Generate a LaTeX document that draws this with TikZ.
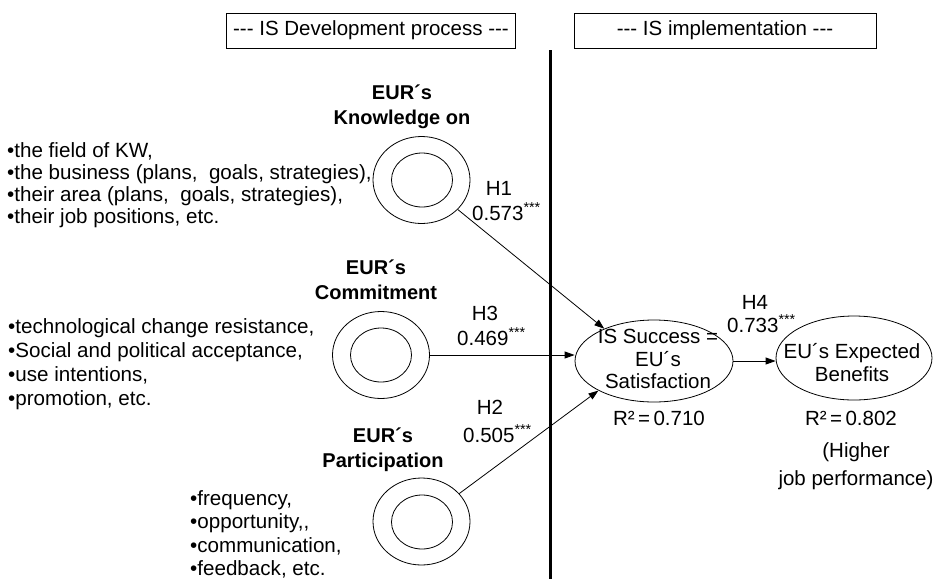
\documentclass[tikz,border=0pt]{standalone}
\usepackage{fontspec}
\setmainfont{Liberation Sans}
\usetikzlibrary{shapes.geometric,arrows.meta}
\begin{document}
\begin{tikzpicture}[x=1pt,y=-1pt,
  every node/.style={inner sep=0pt, font=\fontsize{20.5}{24}\selectfont},
  hdr/.style={draw, line width=0.8pt, minimum height=35pt, align=center},
  outerring/.style={draw, ellipse, line width=0.8pt, minimum width=97pt, minimum height=87pt},
  innerring/.style={draw, ellipse, line width=0.8pt, minimum width=61pt, minimum height=54pt},
  construct/.style={draw, ellipse, line width=0.8pt},
  lbl/.style={font=\bfseries\fontsize{20}{25}\selectfont, align=center},
  items/.style={align=left, anchor=north west},
  coef/.style={anchor=base west},
  conn/.style={-{Triangle[length=10pt,width=7pt]}, line width=0.8pt}]
\fill[white] (0,0) rectangle (937,579);
\useasboundingbox (0,0) rectangle (937,579);

% headers
\node[hdr, minimum width=289pt] (hA) at (371,30.5) {{-}{-}{-} IS Development process {-}{-}{-}};
\node[hdr, minimum width=302pt] (hB) at (725,30.5) {{-}{-}{-} IS implementation {-}{-}{-}};

% divider
\coordinate (vtop) at (550,50);
\coordinate (vbot) at (550,579);
\draw[line width=3pt] (vtop) -- (vbot);

% knowledge
\node[lbl] (kl) at (402,107) {EUR´s\\Knowledge on};
\node[outerring] (k) at (421.5,180) {};
\node[innerring] (ki) at (422,180) {};
\node[items, font=\fontsize{20.6}{22}\selectfont] (kt) at (7,142.5)
  {•the field of KW,\\•the business (plans,\ \ goals, strategies),\\•their area (plans,\ \ goals, strategies),\\•their job positions, etc.};

% commitment
\node[lbl] (cl) at (376,280) {EUR´s\\Commitment};
\node[outerring] (c) at (381,355) {};
\node[innerring] (ci) at (381,355) {};
\node[items, font=\fontsize{20.6}{24}\selectfont] (ct) at (8,318.5)
  {•technological change resistance,\\•Social and political acceptance,\\•use intentions,\\•promotion, etc.};

% participation
\node[lbl] (pl) at (383,449.5) {EUR´s\\Participation};
\node[outerring] (p) at (421.5,521.5) {};
\node[innerring] (pi) at (422,522) {};
\node[items, font=\fontsize{20.6}{23.3}\selectfont] (pt) at (190,490.5)
  {•frequency,\\•opportunity,{},\\•communication,\\•feedback, etc.};

% IS success
\node[construct, minimum width=158pt, minimum height=82pt] (s) at (654,361) {};
\node[align=center, font=\fontsize{20.5}{22.5}\selectfont] (st) at (658,359) {IS Success =\\EU´s\\Satisfaction};
\node[anchor=base] (r1) at (659,425) {R²\,=\,0.710};

% expected benefits
\node[construct, minimum width=156pt, minimum height=84pt] (b) at (854,358) {};
\node[align=center, font=\fontsize{20.5}{23}\selectfont] (bt) at (852,363) {EU´s Expected\\Benefits};
\node[anchor=base] (r2) at (851,425) {R²\,=\,0.802};
\node[align=center, anchor=north, font=\fontsize{20.5}{28}\selectfont] (hj) at (856,442) {(Higher\\job performance)};

% coefficients
\node (h1) at (499,188) {H1};
\node[coef] (v1) at (472,220) {0.573\textsuperscript{***}};
\node (h3) at (485,313) {H3};
\node[coef] (v3) at (457,345) {0.469\textsuperscript{***}};
\node (h2) at (490,407) {H2};
\node[coef] (v2) at (463,442) {0.505\textsuperscript{***}};
\node (h4) at (755,302) {H4};
\node[coef] (v4) at (727,332) {0.733\textsuperscript{***}};

% connectors
\draw[conn] (k) -- (s.147);
\draw[conn] (c.east) -- (c.east -| s.west);
\draw[conn] (p) -- (s.208);
\draw[conn] (s.east) -- (s.east -| b.west);
\end{tikzpicture}
\end{document}
